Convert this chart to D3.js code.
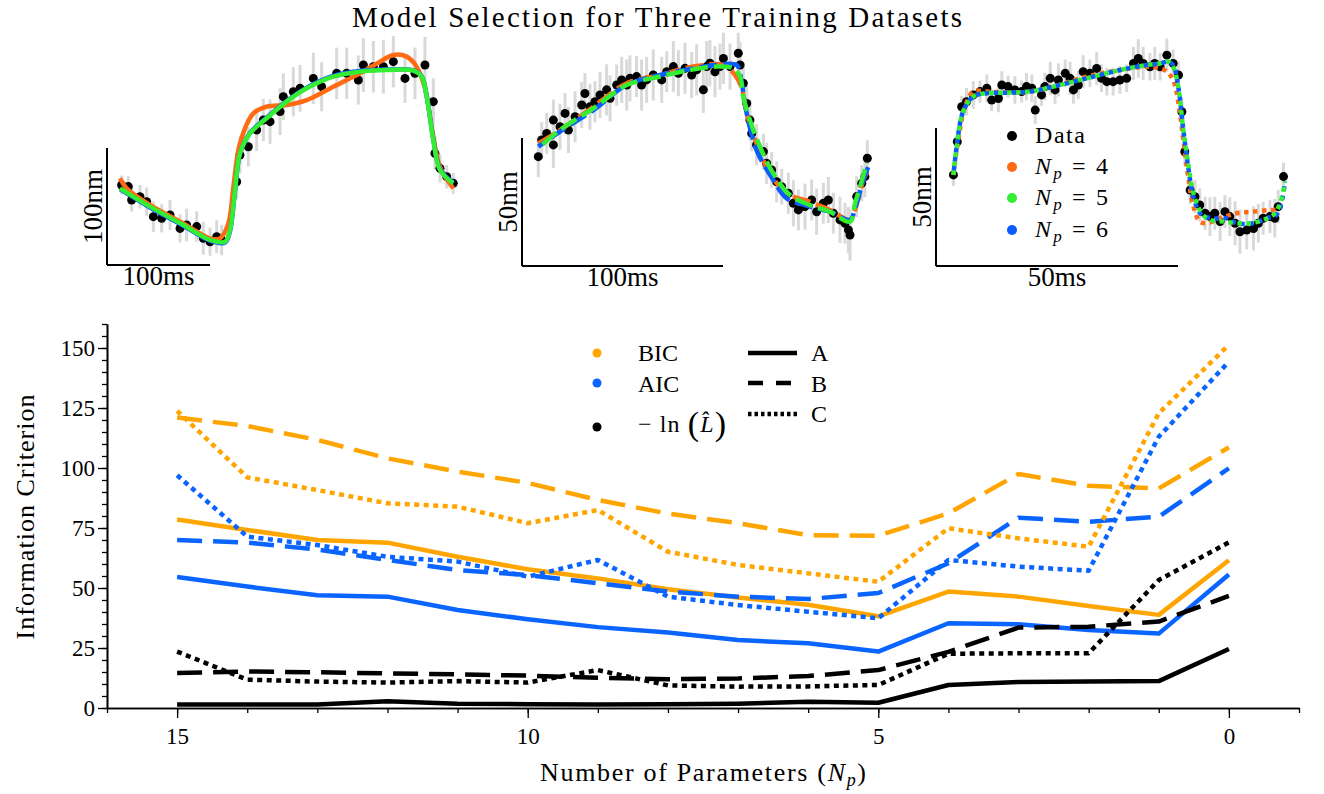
<!DOCTYPE html>
<html>
<head>
<meta charset="utf-8">
<script src="https://cdn.jsdelivr.net/npm/d3@7"></script>
<style>
body { margin: 0; background: #fff; }
svg text { font-family: "Liberation Serif", "DejaVu Serif", serif; fill: #000; }
</style>
</head>
<body>
<svg id="chart" width="1324" height="794"></svg>
<script>
// ---------------------- DATA ----------------------

// main panel: information criteria vs number of parameters, three datasets (A, B, C)
const nParams = [15, 14, 13, 12, 11, 10, 9, 8, 7, 6, 5, 4, 3, 2, 1, 0];
const bicA = [78.5, 74.2, 70, 68.9, 63, 57.8, 54, 49.5, 46, 43, 38.2, 48.5, 46.4, 42.5, 38.8, 61.6];
const aicA = [54.6, 50.6, 47, 46.4, 40.8, 37, 33.7, 31.5, 28.3, 27, 23.5, 35.3, 34.9, 32.5, 31, 55.6];
const nllA = [1.5, 1.5, 1.5, 2.8, 1.8, 1.6, 1.5, 1.6, 1.8, 2.6, 2.2, 9.6, 10.8, 11, 11.2, 24.6];
const bicB = [121, 117.5, 111.7, 104, 98.5, 93.8, 86.7, 81, 77, 72, 71.8, 81.1, 97.5, 92.6, 91.5, 108.6];
const aicB = [70, 68.9, 66, 61.7, 57.5, 55.4, 52, 48.5, 46.4, 45.4, 47.9, 60.3, 79.3, 77.6, 79.7, 99.9];
const nllB = [14.6, 15.2, 14.9, 14.4, 14, 13.5, 12.6, 12, 12.3, 13.3, 15.8, 23.4, 33.5, 33.9, 36, 46.7];
const bicC = [123.8, 96.1, 90.8, 85.3, 83.9, 77, 82.5, 65.1, 59.6, 56.1, 52.6, 74.9, 70.7, 67.2, 122.8, 151.3];
const aicC = [97, 71.4, 67.9, 63, 61, 54.7, 61.7, 46.4, 42.9, 40.1, 37.4, 61.7, 58.9, 57.2, 113, 144.3];
const nllC = [23.5, 11.8, 11, 10.6, 11.2, 10.6, 15.8, 9.4, 8.9, 9, 9.6, 22.6, 22.8, 22.8, 53.3, 69];

const xMajorTicks = [15, 10, 5, 0];
const xMinorTicks = [16, 15, 14, 13, 12, 11, 10, 9, 8, 7, 6, 5, 4, 3, 2, 1, 0, -1];
const yMajorTicks = [0, 25, 50, 75, 100, 125, 150];
const yMinorTicks = [0, 5, 10, 15, 20, 25, 30, 35, 40, 45, 50, 55, 60, 65, 70, 75, 80, 85, 90, 95,
                     100, 105, 110, 115, 120, 125, 130, 135, 140, 145, 150, 155, 160];

// insets: [time ms, position nm, error nm]
const dataA = [[14.2,68.4,8],[20.7,67,9],[23.9,55.6,10],[32,58.4,10],[38.5,54.1,12],[45,41.3,13],[53.1,39.9,12],
  [61.2,42.7,13],[70.9,31.3,12],[77.3,34.2,14],[87.1,32.8,13],[93.5,22.8,14],[100,19.9,12],[106.5,24.2,14],
  [111.3,21.4,13],[125.9,71.2,15],[129.1,94,16],[137.2,101.1,17],[145.3,115.4,18],[151.8,123.9,18],
  [158.3,122.5,19],[168,131.1,20],[171.2,143.9,20],[180.9,148.1,21],[187.4,151,20],[200.3,159.5,22],
  [208.4,152.4,21],[223,163.8,22],[232.7,163.8,22],[244,158.1,21],[248.9,170.9,23],[258.6,169.5,22],
  [268.3,169.5,23],[278,173.8,22],[289.3,159.5,21],[299,163.8,22],[308.7,170.9,24],[316.8,139.6,20],
  [318.4,95.4,14],[323.3,82.6,12],[329.8,75.5,10],[336.2,69.8,9]];
const fitA4 = [[12.6,74.1],[19.1,65.5],[41.7,51.3],[74.1,35.6],[100,22.8],[109.7,22.8],[117.8,35.6],[122.7,67],
  [129.1,104],[142.1,129.6],[155,135.3],[174.4,136.8],[193.9,141],[219.7,152.4],[245.6,163.8],[265,173.8],
  [278,179.5],[290.9,178.1],[300.6,169.5],[308.7,151],[315.2,118.2],[323.3,84],[336.2,65.5]];
const fitA5 = [[12.6,65.5],[41.7,49.9],[74.1,34.2],[100,21.4],[114.6,19.9],[119.4,29.9],[124.3,64.1],[129.1,95.4],
  [138.8,112.5],[155,125.4],[174.4,139.6],[193.9,151],[219.7,161],[245.6,165.2],[271.5,166.7],[297.4,166.1],
  [305.5,161],[310.4,143.9],[316.8,106.8],[323.3,81.2],[336.2,69.8]];
const fitA6 = [[12.6,64.8],[41.7,49.2],[74.1,33.6],[100,20.8],[114.6,19.2],[119.4,29],[124.3,63.4],[129.1,95],
  [138.8,112.9],[155,126],[174.4,140.2],[193.9,151.6],[219.7,161.6],[245.6,165.8],[271.5,167],[297.4,166.3],
  [305.5,161.5],[310.4,144.6],[316.8,107.5],[323.3,82],[336.2,70.4]];

const dataB = [[8.1,42.7,8],[9.8,49.2,7],[12.3,51.8,8],[15.6,47.3,9],[15.6,57,8],[18.9,54.4,9],[21.4,59.6,8],
  [23.1,53.1,9],[26.4,58.3,10],[29.7,62.9,9],[31.3,67.4,8],[33.8,62.2,9],[36.3,64.2,8],[38.8,66.8,9],
  [42.1,68.8,10],[43.8,65.5,9],[47.1,70.7,8],[49.6,72.7,9],[52.1,70.7,10],[53.7,73.3,9],[57,74,8],
  [59.5,70.7,10],[62,72.7,9],[65.3,74.6,10],[69.5,72.7,9],[72,75.9,8],[75.3,77.9,10],[77.8,75.3,9],
  [81.1,77.2,10],[84.4,74.6,9],[86.9,76.6,10],[90.2,68.8,9],[91.9,77.9,10],[93.5,79.2,9],[96,75.9,10],
  [98.5,77.9,9],[100.2,81.1,10],[103.5,77.9,9],[107.6,83.1,8],[108.5,78.5,9],[110.1,71.4,8],[111.8,63.5,7],
  [113.4,57,8],[114.3,51.8,7],[116.7,47.3,8],[120.1,44.7,7],[121.7,40.1,8],[124.2,37.5,7],[126.7,32.9,8],
  [129.2,31,7],[132.5,28.4,8],[135,24.5,9],[137.5,21.9,8],[140.8,23.2,9],[144.1,25.8,8],[146.6,21.2,9],
  [149.9,24.5,8],[152.4,25.8,9],[154.9,20.6,8],[158.2,18,9],[160.7,16.7,8],[162.4,14.1,9],[163.2,12.1,10],
  [166.5,27.1,8],[169,32.3,7],[170.6,34.9,8],[171.8,42.1,7]];
const fitB4 = [[8.1,47.9],[18.9,53.1],[35.5,62.2],[52.1,71.4],[68.7,74.6],[85.2,77.9],[100.2,78.5],[106,74.6],
  [109.3,69.4],[111.8,59.6],[116.7,47.9],[123.4,36.2],[131.7,28.4],[143.3,25.1],[153.2,21.9],[163.2,18],
  [165.7,21.9],[169.8,33.6],[172.3,37.5]];
const fitB5 = [[8.1,46],[18.9,53.1],[35.5,61.6],[52.1,70.7],[68.7,74],[85.2,76.8],[96.8,77.9],[105.1,77.2],
  [108.5,74],[110.1,66.1],[113.4,57],[118.4,46.6],[125,36.2],[133.3,27.7],[143.3,23.8],[153.2,21.2],
  [163.2,17.3],[165.7,24.5],[168.2,31],[171.5,40.1]];
const fitB6 = [[8.1,46.6],[18.9,52.5],[35.5,60.9],[52.1,70.7],[68.7,74.6],[85.2,77.2],[96.8,78.5],[106.8,78.5],
  [109.3,71.4],[111.8,59.6],[116.7,45.3],[125,33.6],[131.7,26.4],[143.3,23.2],[153.2,21.2],[163.2,18],
  [165.7,22.5],[169.8,33.6],[172.3,38.8]];

const dataC = [[3.6,33,4],[4.4,45,4],[5.3,57.7,4],[6.3,59.5,5],[7.7,62,5],[9.1,63.2,4],[10.5,64.4,5],
  [11.5,60.1,4],[12.9,60.7,5],[13.6,65.6,5],[14.9,65,4],[16.3,63.8,5],[17.7,63.2,4],[18.7,65,5],[19.8,64.4,5],
  [20.5,56.5,5],[21.8,62,4],[22.5,65,5],[23.6,68,6],[24.6,63.8,5],[25.3,67.4,6],[26.7,69.8,5],[27.7,68,6],
  [28.4,63.8,5],[29.4,65.6,5],[30.4,70.4,6],[31.8,69.8,5],[33.2,71.6,6],[34.2,68,5],[35.3,66.8,5],
  [36.6,66.8,5],[38,67.4,5],[39.4,68,5],[40.8,73.4,6],[41.8,75.2,7],[42.8,73.4,6],[44.2,72.2,5],[45.2,73.4,6],
  [46.3,72.2,5],[47.7,76.4,6],[49,73.4,5],[50.1,69.2,5],[50.8,55.9,5],[51.4,41.4,5],[52.5,27.5,5],[53.5,25.1,6],
  [54.5,22.1,6],[55.6,19.1,6],[56.6,17.9,7],[57.6,19.1,6],[58.7,16.1,7],[59.7,19.7,6],[60.7,17.9,7],
  [61.8,15.5,8],[62.8,12.4,8],[64.2,13,7],[65.6,13.6,8],[66.6,15.5,7],[67.6,17.3,6],[69,17.9,6],[70,17.3,7],
  [70.7,21.5,6],[71.8,32.4,5]];
const fitC4 = [[3.6,33],[4.6,45.7],[6,57.7],[7.7,63.2],[10.5,63.2],[14.6,62.8],[19.4,63.2],[24.2,65],[31.1,68.6],
  [38,71],[43.5,72.2],[46.3,71.6],[47.7,70.4],[49,67.4],[50.1,58.9],[51.1,45.7],[52.1,32.4],[53.2,21.5],
  [54.5,16.1],[55.9,15.5],[58.7,17.3],[62.1,19.1],[65.6,19.7],[69,20.3],[71.1,20.3]];
const fitC5 = [[3.6,33],[4.4,45],[5.6,55.9],[7.7,61.4],[10.5,62.6],[14.6,62.8],[19.4,63.2],[24.2,65],[31.1,68],
  [38,71],[43.5,72.8],[46.3,73.4],[48,74],[49,72.2],[50.1,64.4],[51.1,49.3],[52.1,37.2],[53.2,26.3],
  [54.9,19.1],[56.6,16.7],[59.4,16.1],[62.1,15.5],[64.9,15.5],[67.6,16.7],[69.7,18.5],[71.1,22.7],[72.1,30.6]];
const fitC6 = [[3.6,33],[4.4,45],[5.6,55.9],[7.7,61.4],[10.5,62.6],[14.6,62.8],[19.4,63.2],[24.2,65],[31.1,68],
  [38,71],[43.5,72.8],[46.3,73.4],[48,74],[49,72.8],[50.1,64.4],[51.1,49.3],[52.1,36],[53.2,25],
  [54.9,18.5],[57.3,17.3],[60.1,17.3],[62.1,15.5],[65.6,15.5],[68.3,17.3],[70.3,18.5],[71.5,24],[72.1,30.6]];

// ---------------------- STYLE ----------------------

const COLORS = { bic: "#ffa500", aic: "#0a64ff", nll: "#000000",
                 np4: "#ff6a12", np5: "#33ee33", np6: "#0a5cff" };
const DASH = { A: null, B: "25,11", C: "5,4.5" };

const svg = d3.select("#chart");

// text helper: Computer Modern is wider than the installed serif, so some widths are pinned
function label(parent, x, y, size, width, anchor) {
    const t = parent.append("text")
        .attr("x", x).attr("y", y)
        .attr("text-anchor", anchor || "start")
        .style("font-size", size + "px");
    if (width) t.attr("textLength", width).attr("lengthAdjust", "spacing");
    return t;
}

// ---------------------- TITLE ----------------------

label(svg, 657, 27, 29, 610, "middle").text("Model Selection for Three Training Datasets");

// ---------------------- MAIN PANEL ----------------------

const x = d3.scaleLinear().domain([16, -1]).range([107, 1299]);
const y = d3.scaleLinear().domain([0, 160]).range([708, 324]);

function styleAxis(g) {
    g.select(".domain").attr("stroke-width", 1.6);
    g.selectAll(".tick line").attr("stroke-width", 1.3);
    g.selectAll(".tick text").style("font-size", "23px")
        .style("font-family", "'Liberation Serif', serif");
}

svg.append("g").attr("transform", "translate(0,708)")
    .call(d3.axisBottom(x).tickValues(xMinorTicks).tickSize(5).tickFormat("").tickSizeOuter(0))
    .call(styleAxis);
svg.append("g").attr("transform", "translate(0,708)")
    .call(d3.axisBottom(x).tickValues(xMajorTicks).tickSize(10).tickPadding(10).tickSizeOuter(0))
    .call(styleAxis);

svg.append("g").attr("transform", "translate(107,0)")
    .call(d3.axisLeft(y).tickValues(yMinorTicks).tickSize(5).tickFormat("").tickSizeOuter(0))
    .call(styleAxis);
svg.append("g").attr("transform", "translate(107,0)")
    .call(d3.axisLeft(y).tickValues(yMajorTicks).tickSize(9).tickPadding(3).tickSizeOuter(0))
    .call(styleAxis);

// axis labels
const xLabel = label(svg, 703, 781, 26, 326, "middle");
xLabel.append("tspan").text("Number of Parameters (");
xLabel.append("tspan").style("font-style", "italic").text("N");
xLabel.append("tspan").style("font-style", "italic").style("font-size", "18px").attr("dy", 5).text("p");
xLabel.append("tspan").attr("dy", -5).text(")");

label(svg, 0, 0, 26, 245, "middle")
    .attr("transform", "translate(34,517) rotate(-90)")
    .text("Information Criterion");

// series lines
const mainSeries = [
    { vals: bicA, color: COLORS.bic, dash: DASH.A },
    { vals: aicA, color: COLORS.aic, dash: DASH.A },
    { vals: nllA, color: COLORS.nll, dash: DASH.A },
    { vals: bicB, color: COLORS.bic, dash: DASH.B },
    { vals: aicB, color: COLORS.aic, dash: DASH.B },
    { vals: nllB, color: COLORS.nll, dash: DASH.B },
    { vals: bicC, color: COLORS.bic, dash: DASH.C },
    { vals: aicC, color: COLORS.aic, dash: DASH.C },
    { vals: nllC, color: COLORS.nll, dash: DASH.C }
];

const mainLine = d3.line()
    .x((d, i) => x(nParams[i]))
    .y(d => y(d));

svg.append("g").selectAll("path")
    .data(mainSeries)
    .enter().append("path")
    .attr("d", d => mainLine(d.vals))
    .attr("fill", "none")
    .attr("stroke", d => d.color)
    .attr("stroke-width", 4.5)
    .attr("stroke-dasharray", d => d.dash)
    .attr("stroke-linejoin", "round");

// legend
const legend = svg.append("g");
const legendDots = [
    { color: COLORS.bic, cy: 353, label: "BIC", ty: 361 },
    { color: COLORS.aic, cy: 383, label: "AIC", ty: 392 }
];
legendDots.forEach(d => {
    legend.append("circle").attr("cx", 597).attr("cy", d.cy).attr("r", 4.5).attr("fill", d.color);
    label(legend, 638, d.ty, 24).text(d.label);
});
legend.append("circle").attr("cx", 597).attr("cy", 427).attr("r", 4.5).attr("fill", COLORS.nll);
const nllText = label(legend, 638, 432, 24, 88);
nllText.append("tspan").text("− ln ");
nllText.append("tspan").style("font-size", "34px").attr("dy", 3).text("(");
nllText.append("tspan").style("font-style", "italic").attr("dy", -3).text("L\u0302");
nllText.append("tspan").style("font-size", "34px").attr("dy", 3).text(")");

const legendLines = [
    { y: 353, dash: null, label: "A", ty: 361 },
    { y: 383, dash: "15,13", label: "B", ty: 392 },
    { y: 414, dash: "3.5,3", label: "C", ty: 422 }
];
legendLines.forEach(d => {
    legend.append("line").attr("x1", 748).attr("x2", 797).attr("y1", d.y).attr("y2", d.y)
        .attr("stroke", "#000").attr("stroke-width", 4.5).attr("stroke-dasharray", d.dash);
    label(legend, 811, d.ty, 24).text(d.label);
});

// ---------------------- INSETS ----------------------

const insets = [
    { data: dataA, fits: [fitA4, fitA6, fitA5], dash: null, offsets: [0, 0, 0],
      x0: 107, y0: 265, msBar: 100, nmBar: 100, barW: 103, barH: 117,
      msLabel: "100ms", nmLabel: "100nm" },
    { data: dataB, fits: [fitB4, fitB6, fitB5], dash: "18,6", offsets: [0, 9, 18],
      x0: 522, y0: 266, msBar: 100, nmBar: 50, barW: 201, barH: 128,
      msLabel: "100ms", nmLabel: "50nm" },
    { data: dataC, fits: [fitC4, fitC6, fitC5], dash: "4.5,4.5", offsets: [0, 4.5, 0],
      x0: 936, y0: 266, msBar: 50, nmBar: 50, barW: 242, barH: 138,
      msLabel: "50ms", nmLabel: "50nm" }
];
const fitColors = [COLORS.np4, COLORS.np6, COLORS.np5];

function drawInset(cfg) {
    const g = svg.append("g");
    const sx = d3.scaleLinear().domain([0, cfg.msBar]).range([cfg.x0, cfg.x0 + cfg.barW]);
    const sy = d3.scaleLinear().domain([0, cfg.nmBar]).range([cfg.y0, cfg.y0 - cfg.barH]);

    // scale bars
    g.append("line").attr("x1", sx(0)).attr("x2", sx(cfg.msBar)).attr("y1", sy(0)).attr("y2", sy(0))
        .attr("stroke", "#000").attr("stroke-width", 2);
    g.append("line").attr("x1", sx(0)).attr("x2", sx(0)).attr("y1", sy(0)).attr("y2", sy(cfg.nmBar))
        .attr("stroke", "#000").attr("stroke-width", 2);
    label(g, sx(cfg.msBar / 2), cfg.y0 + 20, 27, null, "middle").text(cfg.msLabel);
    label(g, 0, 0, 27, null, "middle")
        .attr("transform", `translate(${sx(0) - 5},${sy(cfg.nmBar / 2)}) rotate(-90)`)
        .text(cfg.nmLabel);

    // error bars
    g.append("g").selectAll("line")
        .data(cfg.data)
        .enter().append("line")
        .attr("x1", d => sx(d[0])).attr("x2", d => sx(d[0]))
        .attr("y1", d => sy(d[1] - d[2])).attr("y2", d => sy(d[1] + d[2]))
        .attr("stroke", "#d9d9d9").attr("stroke-width", 3);

    // data points
    g.append("g").selectAll("circle")
        .data(cfg.data)
        .enter().append("circle")
        .attr("cx", d => sx(d[0])).attr("cy", d => sy(d[1]))
        .attr("r", 4.5).attr("fill", "#000");

    // model fits
    const fitLine = d3.line()
        .x(d => sx(d[0])).y(d => sy(d[1]))
        .curve(d3.curveCatmullRom.alpha(0.5));
    cfg.fits.forEach((fit, i) => {
        g.append("path")
            .attr("d", fitLine(fit))
            .attr("fill", "none")
            .attr("stroke", fitColors[i])
            .attr("stroke-width", 4.5)
            .attr("stroke-dasharray", cfg.dash)
            .attr("stroke-dashoffset", cfg.offsets[i]);
    });
}

insets.forEach(drawInset);

// inset legend
const insetLegend = [
    { color: "#000", cy: 136, np: null },
    { color: COLORS.np4, cy: 167, np: "4" },
    { color: COLORS.np5, cy: 198, np: "5" },
    { color: COLORS.np6, cy: 230, np: "6" }
];
insetLegend.forEach(d => {
    svg.append("circle").attr("cx", 1012).attr("cy", d.cy).attr("r", 5).attr("fill", d.color);
    const t = label(svg, 1035, d.cy + 7, 24, d.np === null ? 50 : 73);
    if (d.np === null) {
        t.text("Data");
    } else {
        t.append("tspan").style("font-style", "italic").text("N");
        t.append("tspan").style("font-style", "italic").style("font-size", "17px").attr("dy", 5).text("p");
        t.append("tspan").attr("dy", -5).text(" = " + d.np);
    }
});
</script>
</body>
</html>
